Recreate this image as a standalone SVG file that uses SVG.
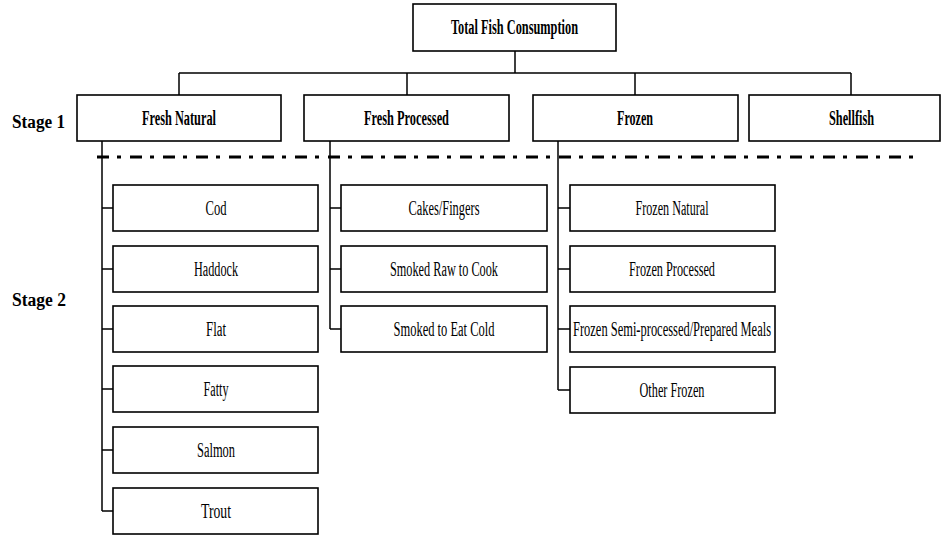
<svg xmlns="http://www.w3.org/2000/svg" width="943" height="537" viewBox="0 0 943 537">
<style>
.box{fill:#fff;stroke:#000;stroke-width:1.6}
.ln{fill:none;stroke:#000;stroke-width:1.5}
.b{font-family:"Liberation Serif","Times New Roman",serif;font-weight:bold;font-size:20px;text-anchor:middle;fill:#000}
.t{font-family:"Liberation Serif","Times New Roman",serif;font-size:20px;text-anchor:middle;fill:#000}
.s{font-family:"Liberation Serif","Times New Roman",serif;font-weight:bold;font-size:18px;fill:#000}
</style>
<rect width="943" height="537" fill="#fff"/>
<g id="connectors">
<path class="ln" d="M515,51V73M179,73H851M179,73V95M407,73V95M635,73V95M851,73V95"/>
<path class="ln" d="M102,141V511M102,208H113M102,269H113M102,329H113M102,389H113M102,450H113M102,511H113"/>
<path class="ln" d="M330,141V329M330,208H341M330,269H341M330,329H341"/>
<path class="ln" d="M558,141V390M558,208H570M558,269H570M558,329H570M558,390H570"/>
</g>
<line id="stage-divider" x1="97" y1="157" x2="922" y2="157" stroke="#000" stroke-width="3" stroke-dasharray="12 8 4 9"/>
<text class="s" x="12" y="128" textLength="53" lengthAdjust="spacingAndGlyphs">Stage 1</text>
<text class="s" x="12" y="306" textLength="54" lengthAdjust="spacingAndGlyphs">Stage 2</text>
<g id="total"><rect class="box" x="413" y="4" width="203" height="47"/><text class="b" x="514.5" y="34" textLength="127" lengthAdjust="spacingAndGlyphs">Total Fish Consumption</text></g>
<g id="fresh-natural"><rect class="box" x="77" y="95" width="204" height="46"/><text class="b" x="179" y="125" textLength="74" lengthAdjust="spacingAndGlyphs">Fresh Natural</text></g>
<g id="fresh-processed"><rect class="box" x="304" y="95" width="205" height="46"/><text class="b" x="406.5" y="125" textLength="85" lengthAdjust="spacingAndGlyphs">Fresh Processed</text></g>
<g id="frozen"><rect class="box" x="533" y="95" width="205" height="46"/><text class="b" x="635" y="125" textLength="36" lengthAdjust="spacingAndGlyphs">Frozen</text></g>
<g id="shellfish"><rect class="box" x="749" y="95" width="191" height="46"/><text class="b" x="851.5" y="125" textLength="45" lengthAdjust="spacingAndGlyphs">Shellfish</text></g>
<g id="cod"><rect class="box" x="113" y="185" width="205" height="46"/><text class="t" x="216" y="215" textLength="21" lengthAdjust="spacingAndGlyphs">Cod</text></g>
<g id="haddock"><rect class="box" x="113" y="246" width="205" height="46"/><text class="t" x="216" y="276" textLength="44" lengthAdjust="spacingAndGlyphs">Haddock</text></g>
<g id="flat"><rect class="box" x="113" y="306" width="205" height="46"/><text class="t" x="216" y="336" textLength="20" lengthAdjust="spacingAndGlyphs">Flat</text></g>
<g id="fatty"><rect class="box" x="113" y="366" width="205" height="46"/><text class="t" x="216" y="396" textLength="25" lengthAdjust="spacingAndGlyphs">Fatty</text></g>
<g id="salmon"><rect class="box" x="113" y="427" width="205" height="46"/><text class="t" x="216" y="457" textLength="38" lengthAdjust="spacingAndGlyphs">Salmon</text></g>
<g id="trout"><rect class="box" x="113" y="488" width="205" height="46"/><text class="t" x="216" y="518" textLength="30" lengthAdjust="spacingAndGlyphs">Trout</text></g>
<g id="cakes"><rect class="box" x="341" y="185" width="206" height="46"/><text class="t" x="444" y="215" textLength="71" lengthAdjust="spacingAndGlyphs">Cakes/Fingers</text></g>
<g id="smoked-raw"><rect class="box" x="341" y="246" width="206" height="46"/><text class="t" x="444" y="276" textLength="108" lengthAdjust="spacingAndGlyphs">Smoked Raw to Cook</text></g>
<g id="smoked-cold"><rect class="box" x="341" y="306" width="206" height="46"/><text class="t" x="444" y="336" textLength="101" lengthAdjust="spacingAndGlyphs">Smoked to Eat Cold</text></g>
<g id="frozen-natural"><rect class="box" x="570" y="185" width="205" height="46"/><text class="t" x="672" y="215" textLength="73" lengthAdjust="spacingAndGlyphs">Frozen Natural</text></g>
<g id="frozen-processed"><rect class="box" x="570" y="246" width="205" height="46"/><text class="t" x="672" y="276" textLength="86" lengthAdjust="spacingAndGlyphs">Frozen Processed</text></g>
<g id="frozen-semi"><rect class="box" x="570" y="306" width="205" height="46"/><text class="t" x="672" y="336" textLength="198" lengthAdjust="spacingAndGlyphs">Frozen Semi-processed/Prepared Meals</text></g>
<g id="other-frozen"><rect class="box" x="570" y="367" width="205" height="46"/><text class="t" x="672" y="397" textLength="65" lengthAdjust="spacingAndGlyphs">Other Frozen</text></g>
</svg>
